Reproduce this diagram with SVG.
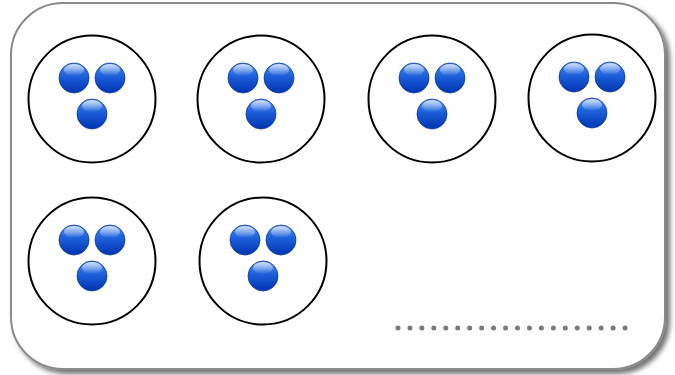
<svg xmlns="http://www.w3.org/2000/svg" width="675" height="375" viewBox="0 0 675 375">
<defs>
<linearGradient id="ballG" x1="0" y1="0" x2="0" y2="1">
<stop offset="0" stop-color="#4f8ef2"/>
<stop offset="0.45" stop-color="#1c5fd9"/>
<stop offset="1" stop-color="#0033b0"/>
</linearGradient>
<linearGradient id="hiG" x1="0" y1="0" x2="0" y2="1">
<stop offset="0" stop-color="#ffffff" stop-opacity="0.75"/>
<stop offset="1" stop-color="#ffffff" stop-opacity="0"/>
</linearGradient>
<filter id="sh" x="-5%" y="-5%" width="112%" height="115%">
<feGaussianBlur in="SourceAlpha" stdDeviation="2.5"/>
<feOffset dx="4" dy="4" result="b"/>
<feComponentTransfer><feFuncA type="linear" slope="0.55"/></feComponentTransfer>
<feMerge><feMergeNode/><feMergeNode in="SourceGraphic"/></feMerge>
</filter>
<g id="ball">
<circle r="15" fill="url(#ballG)" stroke="#0a3a9a" stroke-width="0.8"/>
<ellipse cx="0" cy="-8" rx="10" ry="6" fill="url(#hiG)"/>
</g>
<g id="set">
<circle r="63.5" fill="#fff" stroke="#000" stroke-width="2"/>
<use href="#ball" x="-18" y="-21"/>
<use href="#ball" x="18" y="-21"/>
<use href="#ball" x="0" y="15"/>
</g>
</defs>
<style>
.frame{fill:#fff;stroke:#8a8a8a;stroke-width:2}
.dots{stroke:#7a7a7a;stroke-width:5;stroke-dasharray:0 11.95;stroke-linecap:round;fill:none}
</style>
<rect width="675" height="375" fill="#fff"/>
<g id="frame"><rect class="frame" x="11" y="3" width="654" height="366" rx="52" ry="52" filter="url(#sh)"/></g>
<g id="node1"><use href="#set" x="92" y="99"/></g>
<g id="node2"><use href="#set" x="261" y="99"/></g>
<g id="node3"><use href="#set" x="432" y="99"/></g>
<g id="node4"><use href="#set" x="592" y="98"/></g>
<g id="node5"><use href="#set" x="92" y="261"/></g>
<g id="node6"><use href="#set" x="263" y="261"/></g>
<g id="connectors"></g>
<g id="ellipsis"><line class="dots" x1="398" y1="328" x2="628" y2="328"/></g>
</svg>
